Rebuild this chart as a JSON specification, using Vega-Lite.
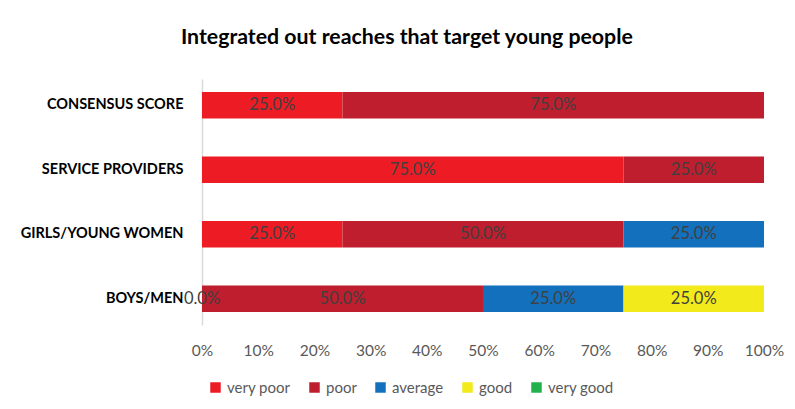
{
  "$schema": "https://vega.github.io/schema/vega-lite/v6.json",
  "width": 562,
  "height": 246,
  "padding": {"left": 20, "top": 26, "right": 28, "bottom": 10},
  "background": "white",
  "title": {"text": "Integrated out reaches that target young people", "font": "Lato", "fontSize": 21.3, "fontWeight": "bold", "color": "#000000", "offset": 31, "anchor": "middle", "frame": "bounds", "dx": 5},
  "config": {"view": {"stroke": null}, "font": "Lato"},
  "data": {"values": [
    {"category": "CONSENSUS SCORE", "rating": "very poor", "value": 0.25},
    {"category": "CONSENSUS SCORE", "rating": "poor", "value": 0.75},
    {"category": "SERVICE PROVIDERS", "rating": "very poor", "value": 0.75},
    {"category": "SERVICE PROVIDERS", "rating": "poor", "value": 0.25},
    {"category": "GIRLS/YOUNG WOMEN", "rating": "very poor", "value": 0.25},
    {"category": "GIRLS/YOUNG WOMEN", "rating": "poor", "value": 0.5},
    {"category": "GIRLS/YOUNG WOMEN", "rating": "average", "value": 0.25},
    {"category": "BOYS/MEN", "rating": "very poor", "value": 0.0},
    {"category": "BOYS/MEN", "rating": "poor", "value": 0.5},
    {"category": "BOYS/MEN", "rating": "average", "value": 0.25},
    {"category": "BOYS/MEN", "rating": "good", "value": 0.25}
  ]},
  "transform": [
    {"calculate": "indexof(['very poor','poor','average','good','very good'], datum.rating)", "as": "ord"},
    {"stack": "value", "groupby": ["category"], "sort": [{"field": "ord", "order": "ascending"}], "as": ["v0", "v1"]},
    {"calculate": "(datum.v0 + datum.v1) / 2", "as": "mid"}
  ],
  "encoding": {
    "y": {
      "field": "category", "type": "nominal",
      "sort": ["CONSENSUS SCORE", "SERVICE PROVIDERS", "GIRLS/YOUNG WOMEN", "BOYS/MEN"],
      "scale": {"paddingInner": 0.59, "paddingOuter": 0.2},
      "axis": {"title": null, "ticks": false, "domain": true, "domainColor": "#d9d9d9", "domainWidth": 1.5, "labelFont": "Lato", "labelFontSize": 14.5, "labelFontWeight": "bold", "labelColor": "#000000", "labelPadding": 19}
    }
  },
  "layer": [
    {
      "mark": {"type": "bar"},
      "encoding": {
        "x": {"field": "v0", "type": "quantitative", "scale": {"domain": [0, 1], "nice": false}, "axis": {"title": null, "format": ".0%", "values": [0,0.1,0.2,0.3,0.4,0.5,0.6,0.7,0.8,0.9,1], "labelOverlap": false, "labelFlush": false, "labelBound": false, "grid": false, "domain": false, "ticks": false, "labelFont": "Lato", "labelFontSize": 15.5, "labelColor": "#595959", "labelPadding": 18}},
        "x2": {"field": "v1"},
        "color": {
          "field": "rating", "type": "nominal",
          "scale": {"domain": ["very poor", "poor", "average", "good", "very good"], "range": ["#ED1C24", "#BE1E2D", "#1370BC", "#F2EA1A", "#22B14C"]},
          "legend": {"title": null, "orient": "none", "direction": "horizontal", "legendX": 6, "legendY": 301, "gridAlign": "none", "symbolType": "square", "symbolSize": 110, "symbolStrokeWidth": 0, "labelFont": "Lato", "labelFontSize": 15, "labelColor": "#595959", "columnPadding": 16, "labelOffset": 4}
        }
      }
    },
    {
      "mark": {"type": "text", "color": "#404040", "fontSize": 16.5, "font": "Lato"},
      "encoding": {
        "x": {"field": "mid", "type": "quantitative"},
        "text": {"field": "value", "type": "quantitative", "format": ".1%"}
      }
    }
  ]
}
